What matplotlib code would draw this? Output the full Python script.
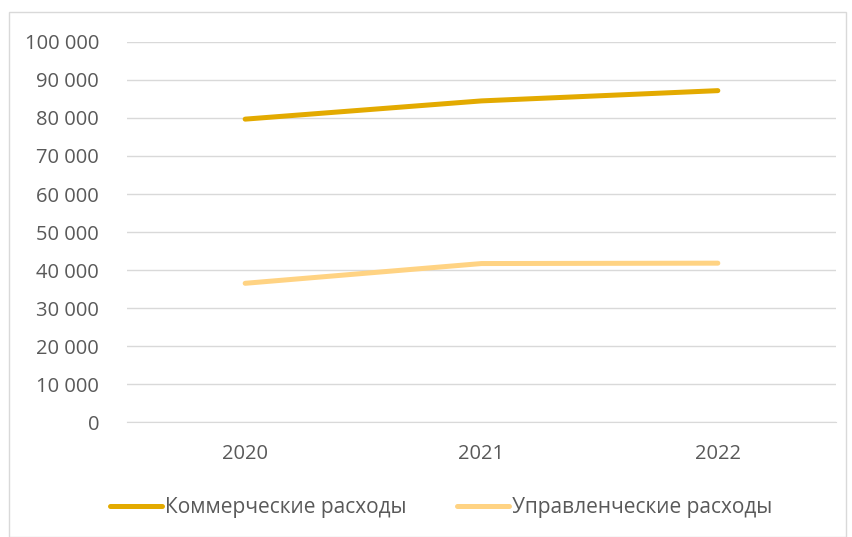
import matplotlib
matplotlib.use('Agg')
import matplotlib.pyplot as plt
from matplotlib.patches import Rectangle
from matplotlib.ticker import FuncFormatter

plt.rcParams['font.family'] = ['Open Sans', 'DejaVu Sans']

years = ['2020', '2021', '2022']
commercial = [79700, 84500, 87200]
admin = [36500, 41700, 41800]
labels = ['Коммерческие расходы', 'Управленческие расходы']

text_col = '#595959'
grid_col = '#D9D9D9'

fig = plt.figure(figsize=(8.53, 5.37), dpi=100)
# outer chart frame
fig.patches.append(Rectangle((9 / 853, 0), 837 / 853, 525 / 537, transform=fig.transFigure,
                             fill=False, edgecolor=grid_col, linewidth=1))

ax = fig.add_axes([127 / 853, 115 / 537, 709 / 853, 380 / 537])
x = range(len(years))
ax.plot(x, commercial, color='#E3AA00', linewidth=3.6, solid_capstyle='round', label=labels[0])
ax.plot(x, admin, color='#FFD383', linewidth=3.6, solid_capstyle='round', label=labels[1])

ax.set_xlim(-0.5, 2.5)
ax.set_ylim(0, 100000)
ax.set_yticks(range(0, 100001, 10000))
ax.yaxis.set_major_formatter(FuncFormatter(lambda v, p: '{:,}'.format(int(v)).replace(',', ' ')))
ax.set_xticks(list(x))
ax.set_xticklabels(years)

ax.grid(axis='y', color=grid_col, linewidth=1)
ax.set_axisbelow(True)
for s in ['top', 'right', 'left']:
    ax.spines[s].set_visible(False)
ax.spines['bottom'].set_color(grid_col)
ax.tick_params(axis='both', length=0, labelsize=14.5, colors=text_col)
ax.tick_params(axis='y', pad=20)
ax.tick_params(axis='x', pad=16)

leg = ax.legend(loc='center', bbox_to_anchor=(441 / 853, 29 / 537), bbox_transform=fig.transFigure,
                ncol=2, frameon=False, handlelength=2.5, handletextpad=0.15,
                columnspacing=2.4, labelcolor=text_col, fontsize=15)

plt.savefig('out.png', dpi=100)
